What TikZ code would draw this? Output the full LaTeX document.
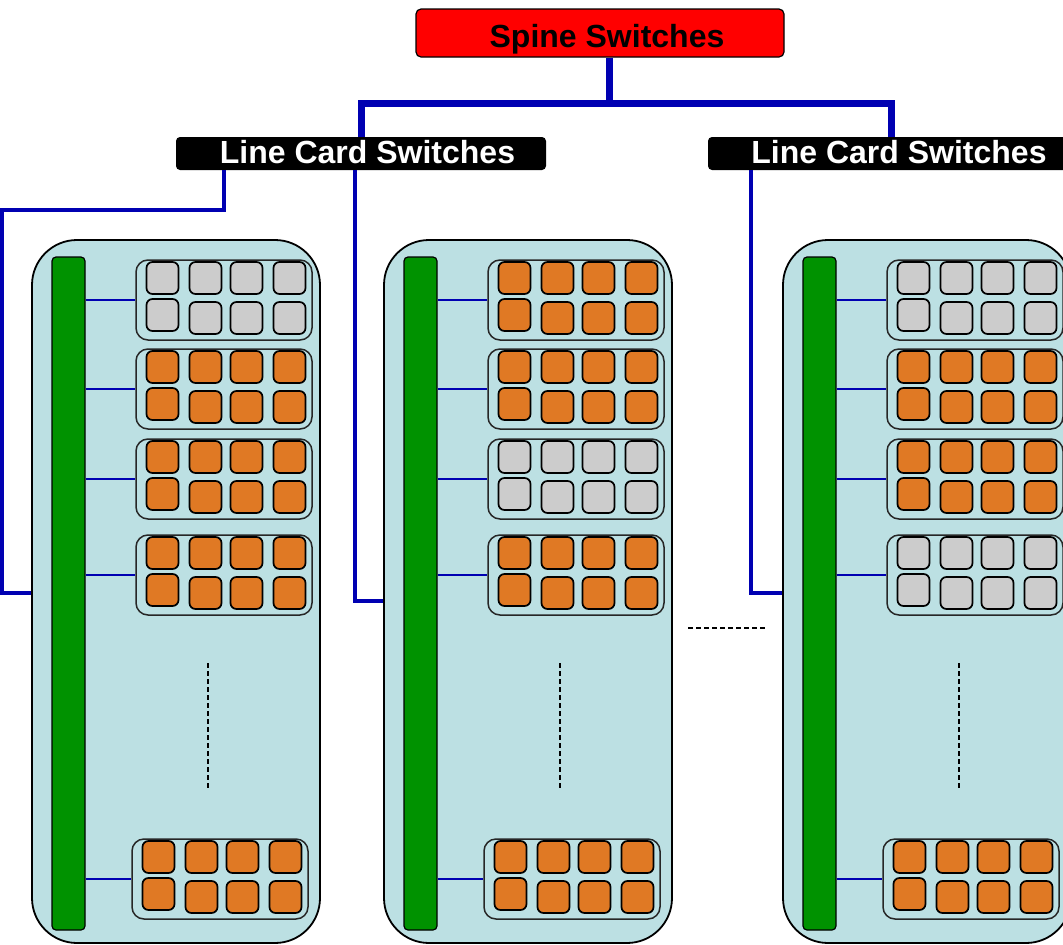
\documentclass[tikz,border=0pt]{standalone}
\usepackage{fontspec}
\setmainfont{Liberation Sans}
\usetikzlibrary{positioning,calc}
\definecolor{spinered}{RGB}{255,0,0}
\definecolor{linkblue}{RGB}{0,0,178}
\definecolor{rackfill}{RGB}{188,224,227}
\definecolor{fabric}{RGB}{0,146,0}
\definecolor{portorange}{RGB}{224,121,36}
\definecolor{portgray}{RGB}{204,204,204}

\begin{document}
\begin{tikzpicture}[x=1pt,y=-1pt,
  spine/.style={draw=black,line width=1.2pt,rounded corners=5pt,fill=spinered,minimum width=368pt,minimum height=48pt,inner sep=0pt,text height=28pt,text depth=0pt,font=\bfseries\fontsize{32}{36}\selectfont},
  lcs/.style={fill=black,rounded corners=4pt,minimum width=370pt,minimum height=33pt,inner sep=0pt,text height=23pt,text depth=4pt,text=white,font=\bfseries\fontsize{32}{36}\selectfont},
  rack/.style={draw=black,line width=1.8pt,rounded corners=45pt,fill=rackfill,minimum width=288pt,minimum height=703pt,inner sep=0pt},
  bar/.style={draw=black,line width=1.2pt,rounded corners=4pt,fill=fabric,minimum width=33pt,minimum height=673pt,inner sep=0pt},
  card/.style={draw=black!85,line width=1.5pt,rounded corners=12pt,minimum width=176pt,minimum height=80pt,inner sep=0pt},
  port/.style={draw=black,line width=1.7pt,rounded corners=6pt,minimum size=32pt,inner sep=0pt},
  trunk/.style={draw=linkblue,line width=7pt},
  uplink/.style={draw=linkblue,line width=4pt},
  wire/.style={draw=linkblue,line width=1.6pt},
  dots/.style={dash pattern=on 5pt off 3pt,line width=1.5pt}]
  \useasboundingbox (0,0) rectangle (1063,945);
  \clip (0,0) rectangle (1063,945);

  % switches on top
  \node[spine] (spine) at (600,33) {\hspace*{14pt}Spine Switches};
  \node[lcs] (lcs1) at (361,153.5) {\hspace*{13pt}Line Card Switches};
  \node[lcs] (lcs2) at (893,153.5) {\hspace*{12pt}Line Card Switches};
  \coordinate (hub) at (609,103);
  \draw[trunk] (spine.south -| hub) -- (hub);
  \draw[trunk] (lcs1.north -| 361,0) |- (hub) -| (lcs2.north -| 891,0);

  % racks with fabric bar and line cards
  \foreach \r/\rx/\kinds in {1/32/{portgray,portorange,portorange,portorange,portorange},
                             2/384/{portorange,portorange,portgray,portorange,portorange},
                             3/783/{portgray,portorange,portorange,portgray,portorange}} {
    \node[rack] (rack\r) at (\rx+144,591.5) {};
    \node[bar] (bar\r) at (\rx+36.5,593.5) {};
    \foreach \k [count=\c] in \kinds {
      \pgfmathsetmacro\cy{{300,389,479,575,879}[\c-1]}
      \pgfmathsetmacro\dx{\c==5 ? 100 : 104}
      \node[card] (card\r-\c) at (\rx+\dx+88,\cy) {};
      \foreach \px [count=\i] in {-61.5,-18.5,22.5,65.5} {
        \node[port,fill=\k] (port\r-\c-a\i) at ([shift={(\px,-22)}]card\r-\c.center) {};
        \pgfmathsetmacro\py{\i==1 ? 15 : 18}
        \node[port,fill=\k] (port\r-\c-b\i) at ([shift={(\px,\py)}]card\r-\c.center) {};
      }
      \draw[wire] (bar\r.east |- card\r-\c.west) -- (card\r-\c.west);
    }
    \coordinate (more\r) at (\rx+176,663);
    \coordinate (last\r) at (\rx+176,790);
    \draw[dots] (more\r) -- (last\r);
  }

  % links from line card switches down to racks
  \draw[uplink] (lcs1.south -| 224,0) |- (2,210) |- (rack1.west |- 0,593);
  \draw[uplink] (lcs1.south -| 355,0) |- (rack2.west |- 0,601);
  \draw[uplink] (lcs2.south -| 751,0) |- (rack3.west |- 0,593);

  \coordinate (skipA) at (688,628);
  \coordinate (skipB) at (766,628);
  \draw[dots] (skipA) -- (skipB);
\end{tikzpicture}
\end{document}
